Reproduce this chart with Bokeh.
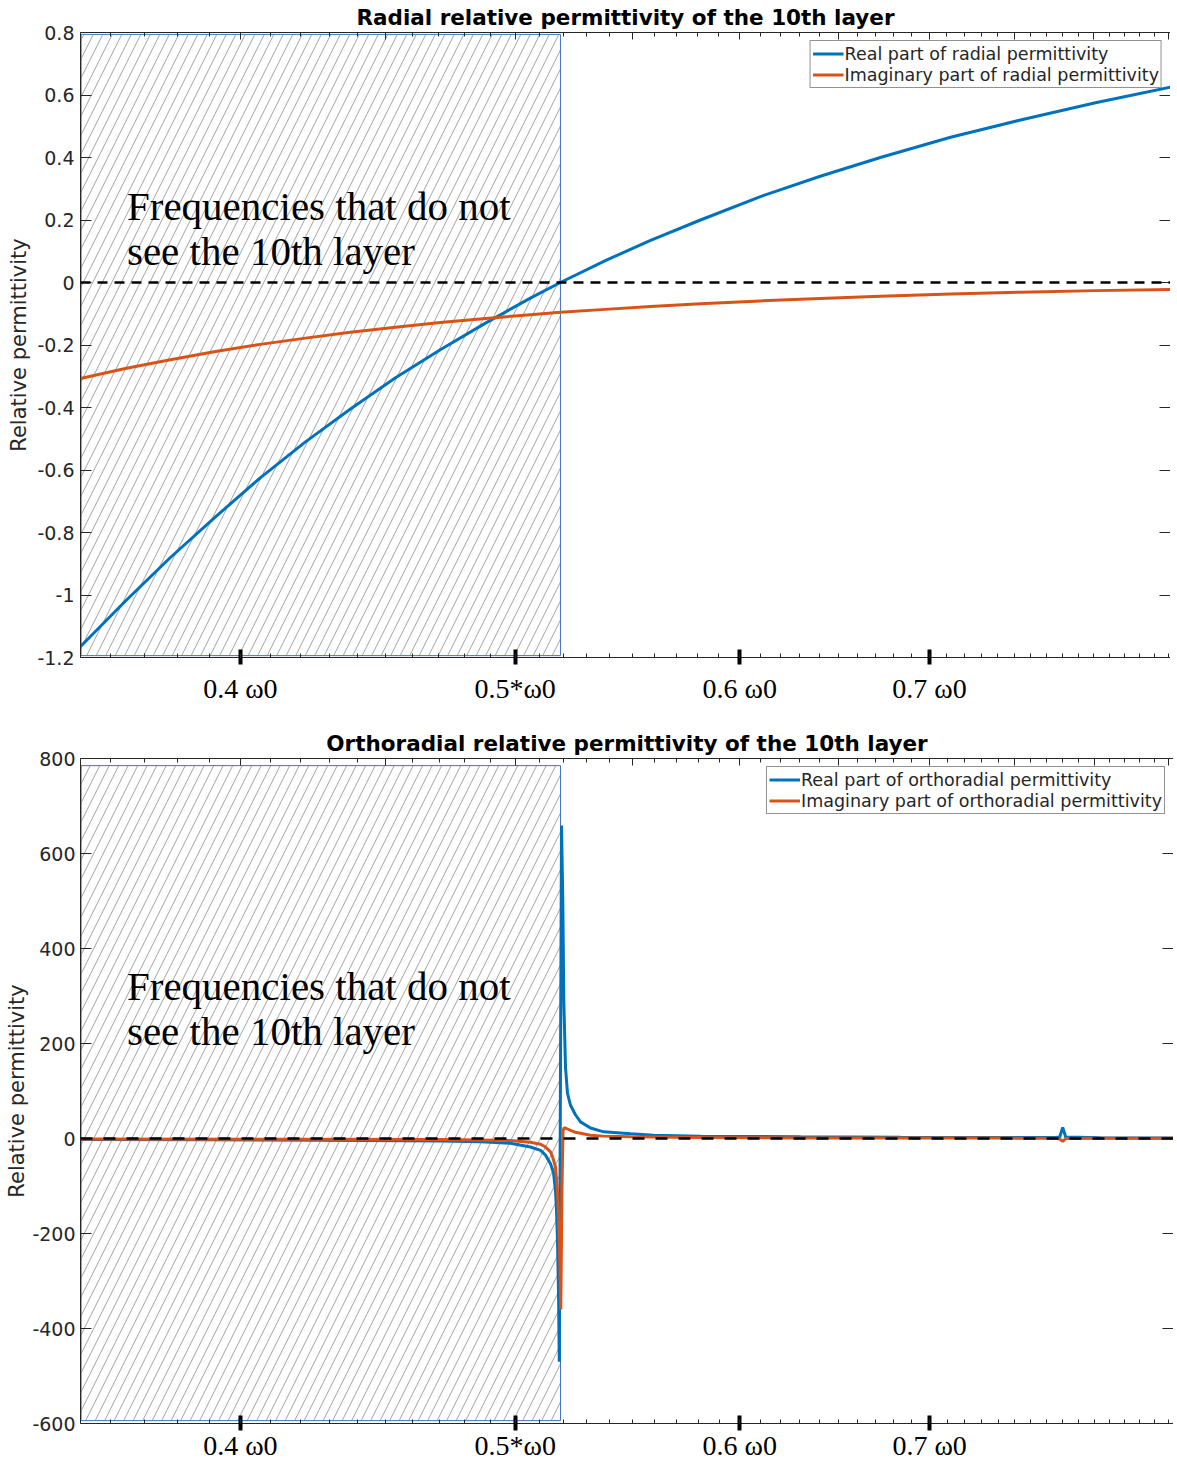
from bokeh.plotting import figure
from bokeh.models import FixedTicker, LinearAxis, LogAxis, Span, Label, Range1d
from bokeh.layouts import column
from bokeh.embed import file_html
from bokeh.resources import INLINE

# ---------------- data (x = omega / omega0) ----------------
X_START = 0.3513
X_END_TOP = 0.8513
X_END_BOT = 0.8533
HATCH_END = 0.51873          # frequencies below this do not see the 10th layer

XTICKS = [0.4, 0.5, 0.6, 0.7]
XLABELS = ["0.4 \u03c90", "0.5*\u03c90", "0.6 \u03c90", "0.7 \u03c90"]

RAD_YTICKS = [0.8, 0.6, 0.4, 0.2, 0.0, -0.2, -0.4, -0.6, -0.8, -1.0, -1.2]
RAD_YLABELS = ["0.8", "0.6", "0.4", "0.2", "0", "-0.2", "-0.4", "-0.6", "-0.8", "-1", "-1.2"]
ORTH_YTICKS = [800, 600, 400, 200, 0, -200, -400, -600]
ORTH_YLABELS = ["800", "600", "400", "200", "0", "-200", "-400", "-600"]

RAD_F = [0.3513, 0.3643, 0.3779, 0.3920, 0.4065, 0.4217, 0.4374, 0.4537, 0.4705, 0.4881,
         0.5062, 0.5187, 0.5380, 0.5581, 0.5812, 0.6102, 0.6406, 0.6726, 0.7121, 0.7537,
         0.8010, 0.8513]
RAD_REAL = [-1.165, -1.02, -0.88, -0.75, -0.625, -0.51, -0.405, -0.305, -0.215, -0.13,
            -0.05, 0.0, 0.07, 0.135, 0.20, 0.275, 0.34, 0.40, 0.465, 0.52,
            0.575, 0.625]
RAD_IMAG = [-0.307, -0.275, -0.247, -0.221, -0.198, -0.178, -0.159, -0.143, -0.128, -0.115,
            -0.103, -0.095, -0.086, -0.077, -0.068, -0.059, -0.051, -0.044, -0.037, -0.031,
            -0.026, -0.022]

ORTH_REAL_F = [0.3513, 0.3873, 0.4269, 0.4556, 0.4706, 0.4861, 0.4981, 0.5062, 0.5104,
               0.51245, 0.51453, 0.51579, 0.51662, 0.51704, 0.51746, 0.51788, 0.51822,
               0.51915, 0.51970, 0.52012, 0.52084, 0.52168, 0.52295, 0.52507, 0.52721,
               0.53152, 0.53720, 0.54912, 0.55947, 0.58124, 0.63041, 0.68375, 0.74159,
               0.77547, 0.77800, 0.77989, 0.78180, 0.80434, 0.85347]
ORTH_REAL = [-2, -2.5, -3.5, -4.5, -5.5, -7, -10, -18, -25,
             -35, -53, -72, -110, -150, -215, -320, -470,
             659, 501, 291, 150, 95, 70, 50, 35,
             22, 14, 10, 7, 5, 3.5, 2.5, 2,
             2, 3, 23, 3, 1.5, 1]

ORTH_IMAG_F = [0.3513, 0.4269, 0.4706, 0.4861, 0.4981, 0.5062, 0.5104, 0.51245, 0.51453,
               0.51537, 0.51662, 0.51746, 0.51788, 0.51830, 0.51873, 0.51885, 0.51936,
               0.51978, 0.52020, 0.52084, 0.52168, 0.52295, 0.52507, 0.52721, 0.53152,
               0.53720, 0.54912, 0.58124, 0.63041, 0.74159, 0.77547, 0.77800, 0.77989,
               0.78180, 0.80434, 0.85347]
ORTH_IMAG = [-1, -1.5, -2, -3, -4, -8, -12, -18, -28,
             -38, -60, -110, -160, -230, -330, -360, -100,
             15, 22, 22, 20, 17, 13, 11, 7,
             5, 3.5, 2, 1.2, 0.8, 0.5, -1, -6,
             0, 0.3, 0.3]

TOP_MAJOR = [round(0.35 + 0.05 * i, 2) for i in range(11)]
MINOR = [round(0.35 + 0.01 * i, 2) for i in range(51)]

BLUE = "#0072BD"
ORANGE = "#D95319"
AXC = "#262626"


def build(title, x_end, fw, fh, yr, yticks, ylabels, rf, rv, i_f, iv, names,
          dash, hatch_bt, text_y, min_top, min_bottom, xl_standoff, yl_standoff,
          ylab_standoff):
    p = figure(title=title, x_axis_type="log", x_range=Range1d(X_START, x_end),
               y_range=Range1d(*yr), frame_width=fw, frame_height=fh,
               output_backend="svg", toolbar_location=None,
               min_border_left=80, min_border_right=0, min_border_top=min_top,
               min_border_bottom=min_bottom, background_fill_color="white",
               border_fill_color="white", outline_line_color=None)
    p.xgrid.visible = False
    p.ygrid.visible = False
    p.title.text_font = "DejaVu Sans"
    p.title.text_font_style = "bold"
    p.title.text_font_size = "21.5px"
    p.title.text_color = "black"
    p.title.align = "center"
    p.title.standoff = 5

    # bottom axis
    ax = p.below[0]
    ax.ticker = FixedTicker(ticks=XTICKS, minor_ticks=MINOR)
    ax.major_label_overrides = dict(zip(XTICKS, XLABELS))
    ax.major_tick_line_width = 4
    ax.major_tick_line_color = "black"
    ax.major_tick_in = 8
    ax.major_tick_out = 7
    ax.minor_tick_in = 4
    ax.minor_tick_out = 0
    ax.minor_tick_line_color = AXC
    ax.axis_line_color = AXC
    ax.major_label_text_font = "Liberation Serif"
    ax.major_label_text_font_size = "28px"
    ax.major_label_text_color = "black"
    ax.major_label_standoff = xl_standoff

    # left axis
    ly = p.left[0]
    ly.ticker = FixedTicker(ticks=yticks)
    ly.major_label_overrides = dict(zip(yticks, ylabels))
    ly.major_tick_in = 11
    ly.major_tick_out = 0
    ly.minor_tick_line_color = None
    ly.major_tick_line_color = AXC
    ly.axis_line_color = AXC
    ly.major_label_text_font = "DejaVu Sans"
    ly.major_label_text_font_size = "19px"
    ly.major_label_text_color = AXC
    ly.major_label_standoff = yl_standoff
    ly.axis_label = "Relative permittivity"
    ly.axis_label_text_font = "DejaVu Sans"
    ly.axis_label_text_font_style = "normal"
    ly.axis_label_text_font_size = "21px"
    ly.axis_label_text_color = AXC
    ly.axis_label_standoff = ylab_standoff

    # top axis (ticks only)
    tx = LogAxis(ticker=FixedTicker(ticks=TOP_MAJOR, minor_ticks=MINOR),
                 major_tick_in=7, major_tick_out=0, minor_tick_in=4, minor_tick_out=0,
                 major_label_text_font_size="0px", major_label_text_color=None,
                 major_label_standoff=0,
                 axis_line_color=AXC, major_tick_line_color=AXC, minor_tick_line_color=AXC)
    p.add_layout(tx, "above")
    # right axis (ticks only)
    ry = LinearAxis(ticker=FixedTicker(ticks=yticks), major_tick_in=11, major_tick_out=0,
                    minor_tick_line_color=None, major_label_text_font_size="0px",
                    major_label_text_color=None,
                    major_label_standoff=0, axis_line_color=AXC, major_tick_line_color=AXC)
    p.add_layout(ry, "right")

    # hatched region
    p.quad(left=[X_START * 1.0005], right=[HATCH_END], bottom=[hatch_bt[0]], top=[hatch_bt[1]],
           fill_color=None, hatch_pattern="/", hatch_color="#8a8a8a", hatch_weight=0.8,
           hatch_scale=19, line_color="#4472C4", line_width=1)

    p.line(rf, rv, line_color=BLUE, line_width=3, legend_label=names[0])
    p.line(i_f, iv, line_color=ORANGE, line_width=3, legend_label=names[1])

    p.add_layout(Span(location=0, dimension="width", line_color="black",
                      line_dash=dash, line_width=2.5))

    for txt, yy in zip(["Frequencies that do not", "see the 10th layer"], text_y):
        p.add_layout(Label(x=0.3648, y=yy, text=txt, text_font="Liberation Serif",
                           text_font_size="41px", text_color="black",
                           text_baseline="alphabetic", text_align="left"))

    lg = p.legend[0]
    lg.location = "top_right"
    lg.margin = 8
    lg.padding = 2
    lg.spacing = 0
    lg.glyph_width = 31
    lg.glyph_height = 21
    lg.label_height = 21
    lg.label_standoff = 1
    lg.label_text_font = "DejaVu Sans"
    lg.label_text_font_size = "17.5px"
    lg.label_text_color = AXC
    lg.border_line_color = AXC
    lg.border_line_width = 1
    lg.background_fill_color = "white"
    lg.background_fill_alpha = 1.0
    return p


p1 = build("Radial relative permittivity of the 10th layer", X_END_TOP, 1090, 625,
           (-1.2, 0.8), RAD_YTICKS, RAD_YLABELS, RAD_F, RAD_REAL, RAD_F, RAD_IMAG,
           ["Real part of radial permittivity", "Imaginary part of radial permittivity"],
           "10 7", (-1.194, 0.794), [0.246, 0.102], 32, 68, 8, 6, 3)

p2 = build("Orthoradial relative permittivity of the 10th layer", X_END_BOT, 1093, 665,
           (-600, 800), ORTH_YTICKS, ORTH_YLABELS, ORTH_REAL_F, ORTH_REAL, ORTH_IMAG_F, ORTH_IMAG,
           ["Real part of orthoradial permittivity", "Imaginary part of orthoradial permittivity"],
           "12 11", (-594, 785), [322, 227], 33, 0, -1, 5, 0)

layout = column(p1, p2, spacing=0)
open("out.html", "w").write(file_html(layout, INLINE))
